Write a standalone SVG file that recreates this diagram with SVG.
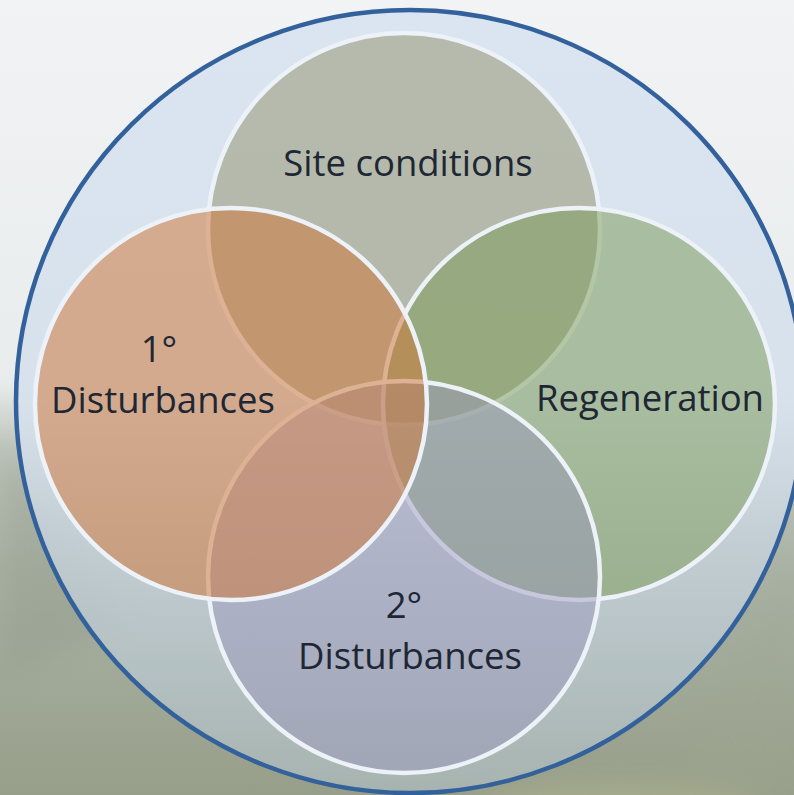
<svg xmlns="http://www.w3.org/2000/svg" width="794" height="795" viewBox="0 0 794 795">
  <defs>
    <!-- misty backdrop: pale sky fading into a hazy forest -->
    <linearGradient id="sky" x1="0" y1="0" x2="0" y2="1">
      <stop offset="0" stop-color="#f1f3f5"/>
      <stop offset="0.48" stop-color="#e9ecec"/>
      <stop offset="0.56" stop-color="#bfc6bd"/>
      <stop offset="0.72" stop-color="#a9b1a4"/>
      <stop offset="1" stop-color="#979f8a"/>
    </linearGradient>
    <!-- translucent pale-blue disc -->
    <linearGradient id="disc" x1="0" y1="0" x2="0" y2="1">
      <stop offset="0" stop-color="#dbe5f1" stop-opacity="1"/>
      <stop offset="0.5" stop-color="#d7e1ec" stop-opacity="0.97"/>
      <stop offset="0.68" stop-color="#c8d5df" stop-opacity="0.78"/>
      <stop offset="1" stop-color="#b6c7d3" stop-opacity="0.5"/>
    </linearGradient>
    <filter id="haze" x="-50%" y="-50%" width="200%" height="200%">
      <feGaussianBlur stdDeviation="14"/>
    </filter>
    <style>
      .ring { stroke: #edf2f9; stroke-width: 4.5; }
      .label { font-family: "Open Sans", "Noto Sans", "Liberation Sans", sans-serif; font-size: 36.5px; fill: #1e2733; text-anchor: middle; }
    </style>
  </defs>

  <!-- background -->
  <rect x="0" y="0" width="794" height="795" fill="url(#sky)"/>
  <g filter="url(#haze)" opacity="0.35">
    <path d="M0 450 L30 470 L60 520 L90 570 L130 620 L0 680 Z" fill="#8f9a88"/>
    <path d="M794 580 L760 620 L720 690 L680 760 L794 795 Z" fill="#9ea692"/>
    <ellipse cx="620" cy="805" rx="140" ry="22" fill="#c4c28e"/>
  </g>

  <!-- outer boundary disc -->
  <g id="outer">
    <ellipse cx="410" cy="401.5" rx="394" ry="391.5" fill="url(#disc)" stroke="#33619c" stroke-width="4.5"/>
  </g>

  <!-- Venn sets, drawn back to front -->
  <g id="site-conditions">
    <circle class="ring" cx="404" cy="229" r="196" fill="#8f8f6a" fill-opacity="0.5"/>
    <text class="label" x="408" y="176">Site conditions</text>
  </g>

  <g id="regeneration">
    <circle class="ring" cx="579" cy="404" r="196" fill="#7a9a53" fill-opacity="0.5"/>
    <text class="label" x="650" y="411">Regeneration</text>
  </g>

  <g id="secondary-disturbances">
    <circle class="ring" cx="404" cy="577" r="196" fill="#9a94bc" fill-opacity="0.45"/>
    <text class="label" x="404" y="618">2°</text>
    <text class="label" x="410" y="669">Disturbances</text>
  </g>

  <g id="primary-disturbances">
    <circle class="ring" cx="231" cy="404" r="196" fill="#cf7638" fill-opacity="0.52"/>
    <text class="label" x="159" y="362">1°</text>
    <text class="label" x="163" y="413">Disturbances</text>
  </g>

  <!-- no connectors in this diagram -->
  <g id="connectors"/>
</svg>
